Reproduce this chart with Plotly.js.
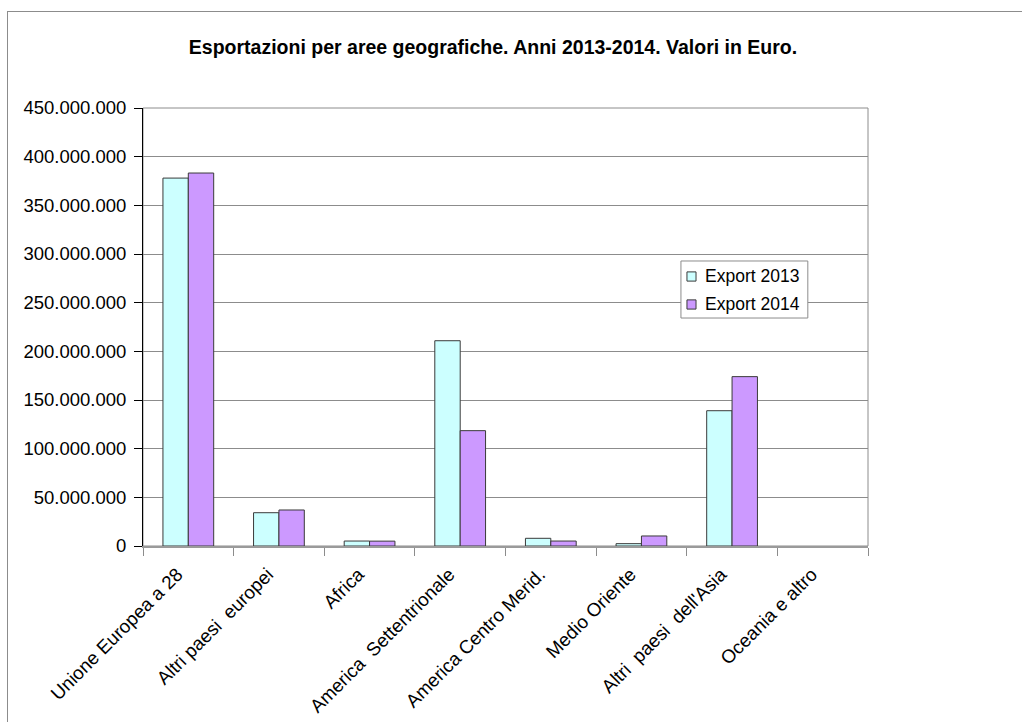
<!DOCTYPE html>
<html>
<head>
<meta charset="utf-8">
<script src="https://cdn.plot.ly/plotly-3.0.1.min.js"></script>
<style>
  html, body { margin: 0; padding: 0; background: #fff; }
  #wrap { position: relative; width: 1022px; height: 722px; overflow: hidden; }
  #chart { width: 1022px; height: 722px; }
  #frame { position: absolute; left: 7px; top: 11px; width: 1100px; height: 800px;
           border-top: 1px solid #8c8c8c; border-left: 1px solid #8c8c8c; pointer-events: none; }
</style>
</head>
<body>
<div id="wrap">
  <div id="chart"></div>
  <div id="frame"></div>
</div>
<script>
// Export values by geographic area, in euro
const areas = [
  "Unione Europea a 28",
  "Altri paesi  europei",
  "Africa",
  "America  Settentrionale",
  "America Centro Merid.",
  "Medio Oriente",
  "Altri  paesi  dell'Asia",
  "Oceania e altro"
];
const export2013 = [378000000, 34200000, 5100000, 210900000, 7900000, 2400000, 139000000, null];
const export2014 = [383200000, 37000000, 5000000, 118500000, 5100000, 10300000, 174000000, null];
const seriesNames = ["Export 2013", "Export 2014"];
const yTicks = [0, 50000000, 100000000, 150000000, 200000000, 250000000, 300000000, 350000000, 400000000, 450000000];

const font = "Liberation Sans, Arial, sans-serif";
const colors = ["#CCFFFF", "#CC99FF"];
const edge = "#3a3a3a";

const traces = [export2013, export2014].map((vals, i) => ({
  type: "bar", name: seriesNames[i], x: areas, y: vals,
  marker: { color: colors[i], line: { color: edge, width: 1 } }
}));

// Boxed legend in the right half of the plot area
const legBox = { x0: 0.742, x1: 0.917, y0: 0.5205, y1: 0.6507 };
const legRows = [0.6153, 0.5514];
const legShapes = [
  { type: "rect", xref: "paper", yref: "paper", x0: legBox.x0, x1: legBox.x1, y0: legBox.y0, y1: legBox.y1,
    fillcolor: "#fff", line: { color: "#8c8c8c", width: 1 }, layer: "above" }
].concat(legRows.map((ry, i) => ({
  type: "rect", xref: "paper", yref: "paper",
  x0: 0.7503, x1: 0.7628, y0: ry - 0.0105, y1: ry + 0.0105,
  fillcolor: colors[i], line: { color: edge, width: 1 }, layer: "above"
})));
const legText = legRows.map((ry, i) => ({
  xref: "paper", yref: "paper", x: 0.7725, y: ry + 0.002, xanchor: "left", yanchor: "middle",
  text: seriesNames[i], showarrow: false, font: { family: font, size: 17.5, color: "#000" }
}));

const layout = {
  width: 1022, height: 722,
  margin: { l: 143, r: 154, t: 108, b: 176, pad: 0 },
  paper_bgcolor: "#fff", plot_bgcolor: "#fff",
  separators: ",.",
  font: { family: font, size: 17, color: "#000" },
  title: {
    text: "<b>Esportazioni per aree geografiche. Anni 2013-2014. Valori in Euro.</b>",
    font: { family: font, size: 19.5, color: "#000" },
    x: 0.4824, xanchor: "center", y: 0.935, yanchor: "middle"
  },
  barmode: "group",
  bargap: 0.44, bargroupgap: 0,
  showlegend: false,
  xaxis: {
    type: "category",
    showline: true, linecolor: "#9a9a9a", linewidth: 2,
    ticks: "outside", tickson: "boundaries", ticklen: 8, tickcolor: "#8c8c8c", tickwidth: 1,
    tickangle: -45, showgrid: false, zeroline: false,
    ticklabelshift: -11, ticklabelstandoff: 8,
    tickfont: { family: font, size: 18.8, color: "#000" }
  },
  yaxis: {
    range: [0, 450000000],
    tickvals: yTicks, tickformat: ",d",
    showline: true, linecolor: "#000", linewidth: 1,
    ticks: "outside", ticklen: 8, tickcolor: "#000",
    showgrid: true, gridcolor: "#8c8c8c", gridwidth: 1,
    zeroline: false, ticklabelstandoff: 4,
    tickfont: { family: font, size: 18.5, color: "#000" }
  },
  shapes: [
    { type: "rect", xref: "paper", yref: "paper", x0: 0, x1: 1, y0: 0, y1: 1,
      line: { color: "#8c8c8c", width: 1 }, layer: "below" }
  ].concat(legShapes),
  annotations: legText
};

Plotly.newPlot("chart", traces, layout, { displayModeBar: false, staticPlot: true });
</script>
</body>
</html>
